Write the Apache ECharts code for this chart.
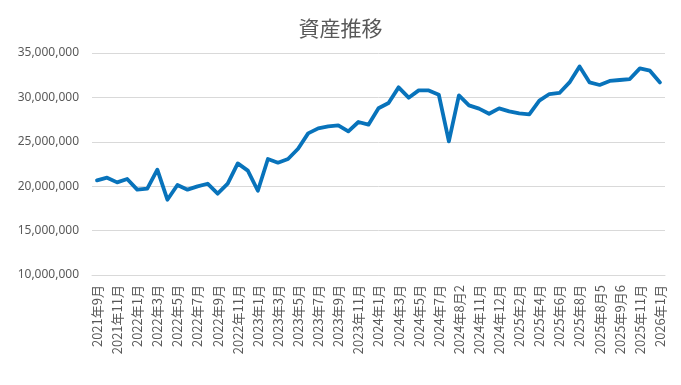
<!DOCTYPE html>
<html>
<head>
<meta charset="utf-8">
<script src="https://cdn.jsdelivr.net/npm/echarts@6/dist/echarts.min.js"></script>
<style>
html,body{margin:0;padding:0;background:#fff;}
#chart{width:681px;height:385px;}
</style>
</head>
<body>
<div id="chart"></div>
<script>
const titleText = '資産推移';
const categories = [
  '2021年9月','2021年10月','2021年11月','2021年12月',
  '2022年1月','2022年2月','2022年3月','2022年4月','2022年5月','2022年6月','2022年7月','2022年8月','2022年9月','2022年10月','2022年11月','2022年12月',
  '2023年1月','2023年2月','2023年3月','2023年4月','2023年5月','2023年6月','2023年7月','2023年8月','2023年9月','2023年10月','2023年11月','2023年12月',
  '2024年1月','2024年2月','2024年3月','2024年4月','2024年5月','2024年6月','2024年7月','2024年8月','2024年8月2','2024年10月','2024年11月','2024年11月2','2024年12月',
  '2025年1月','2025年2月','2025年3月','2025年4月','2025年5月','2025年6月','2025年7月','2025年8月','2025年8月4','2025年8月5','2025年9月','2025年9月6','2025年10月','2025年11月','2025年12月','2026年1月'
];
const assets = [
  20650000,20960000,20430000,20810000,
  19610000,19720000,21860000,18480000,20140000,19610000,19980000,20280000,19160000,20280000,22570000,21750000,
  19490000,23060000,22650000,23060000,24220000,25950000,26510000,26730000,26850000,26170000,27230000,26930000,
  28780000,29370000,31130000,29970000,30790000,30790000,30300000,25040000,30230000,29100000,28730000,28160000,28760000,
  28420000,28200000,28090000,29630000,30380000,30500000,31690000,33490000,31690000,31400000,31850000,31960000,32070000,33270000,33010000,31690000
];
const yMin = 10000000, yMax = 35000000, yStep = 5000000;

const chart = echarts.init(document.getElementById('chart'));
chart.setOption({
  animation: false,
  backgroundColor: '#ffffff',
  title: {
    text: titleText,
    left: 'center',
    top: 13,
    textStyle: { fontFamily: 'Noto Sans CJK JP', fontSize: 21, fontWeight: 'normal', color: '#595959' }
  },
  grid: { left: 92, right: 16, top: 53, bottom: 110 },
  xAxis: {
    type: 'category',
    data: categories,
    boundaryGap: true,
    axisLine: { show: true, lineStyle: { color: '#d9d9d9', width: 1 } },
    axisTick: { show: false },
    axisLabel: {
      interval: 1,
      rotate: 90,
      margin: 10,
      fontFamily: 'Noto Sans CJK JP',
      fontSize: 13,
      color: '#595959'
    }
  },
  yAxis: {
    type: 'value',
    min: yMin,
    max: yMax,
    interval: yStep,
    axisLine: { show: false },
    axisTick: { show: false },
    splitLine: { lineStyle: { color: '#d9d9d9', width: 1 } },
    axisLabel: {
      margin: 13,
      fontFamily: 'Noto Sans',
      fontSize: 12,
      color: '#595959',
      formatter: v => v.toLocaleString('en-US')
    }
  },
  series: [{
    type: 'line',
    data: assets,
    showSymbol: false,
    symbol: 'none',
    lineStyle: { color: '#0873BB', width: 3.8, join: 'round', cap: 'round' }
  }]
});
</script>
</body>
</html>
